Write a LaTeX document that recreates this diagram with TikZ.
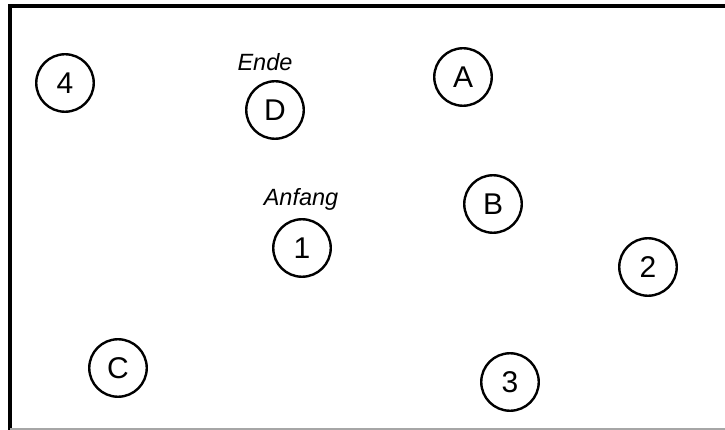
\documentclass[tikz,border=0pt]{standalone}
\usepackage{fontspec}
\setmainfont{Liberation Sans}
\begin{document}
\begin{tikzpicture}[x=1pt,y=-1pt,
  station/.style={circle,draw=black,line width=2.4pt,minimum size=57.5pt,inner sep=0pt,
    font=\fontsize{30}{30}\selectfont},
  tag/.style={font=\fontsize{23.5}{23.5}\selectfont\itshape,inner sep=0pt}]
\useasboundingbox (0,0) rectangle (725,430);
\fill[white] (0,0) rectangle (725,430);
% frame: heavy left and top edges, thin grey base line
\draw[line width=4pt] (10,430) -- (10,6) -- (725,6);
\draw[gray!70,line width=1.2pt] (10,429) -- (725,429);
% stations
\node[station] (n4) at (65,83) {4};
\node[station] (nD) at (275,110) {D};
\node[station] (nA) at (463,77) {A};
\node[station] (nB) at (493,204) {B};
\node[station] (n1) at (302,248) {1};
\node[station] (n2) at (648,267) {2};
\node[station] (nC) at (118,368) {C};
\node[station] (n3) at (510,382) {3};
% labels
\node[tag] (ende) at (265,62) {Ende};
\node[tag] (anfang) at (301,199) {Anfang};
\end{tikzpicture}
\end{document}
